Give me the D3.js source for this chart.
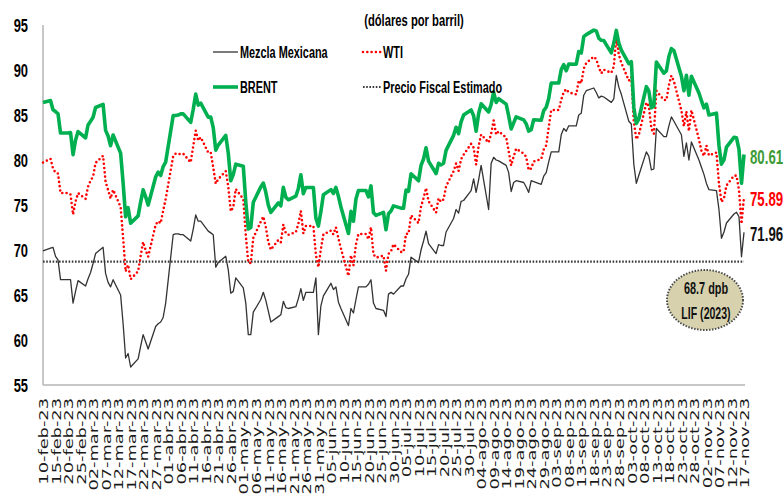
<!DOCTYPE html>
<html>
<head>
<meta charset="utf-8">
<script src="https://cdn.jsdelivr.net/npm/d3@7"></script>
<style>
  html, body { margin: 0; padding: 0; background: #fff; }
  svg { display: block; }
</style>
</head>
<body>
<svg id="chart" width="784" height="500"></svg>
<script>
// precios diarios (dias habiles 10-feb-23 a 17-nov-23), dolares por barril
const brent = [
  86.39, 86.61, 85.58, 85.38, 85.14, 83.00, 83.00, 83.05, 80.60, 82.21, 83.16, 82.45, 83.89,
  84.31, 84.75, 85.83, 86.18, 83.29, 82.66, 81.59, 82.78, 80.77, 77.45, 73.69, 74.70, 72.97, 73.79, 75.32, 76.69, 75.91, 74.99, 78.12, 78.65, 78.28, 79.27, 79.77,
  84.93, 84.94, 84.99, 85.12, 85.12, 84.18, 85.61, 87.33, 86.09, 86.31, 84.76, 84.77, 83.60, 81.10, 81.66, 82.73, 80.77, 77.69, 78.37, 79.54,
  79.31, 75.32, 72.33, 72.50, 75.30, 77.01, 77.44, 76.41, 74.98, 74.17, 75.23, 74.91, 76.96, 75.86, 75.58, 75.99, 76.84, 78.36, 76.26, 76.95, 76.95, 73.54, 72.66,
  74.28, 76.13, 76.71, 76.29, 76.95, 75.96, 74.79, 71.84, 74.29, 73.20, 75.67, 76.61, 76.61, 75.90, 77.12, 74.14, 73.85, 74.18, 72.26, 74.03, 74.34, 74.90,
  74.65, 74.65, 76.65, 76.52, 78.47, 77.69, 79.40, 80.11, 81.36, 79.87, 78.50, 79.63, 79.46, 79.64, 81.07, 82.74, 83.64, 82.92, 84.24, 84.99, 85.56,
  84.91, 83.20, 85.14, 86.24, 85.34, 86.17, 87.55, 86.40, 86.81, 86.21, 84.89, 83.45, 84.12, 84.80, 84.46, 84.03, 83.21, 83.36, 84.48, 84.42, 85.49, 85.86, 86.83,
  88.55, 88.55, 90.04, 90.60, 89.92, 90.65, 90.64, 92.06, 91.88, 93.70, 93.93, 94.43, 94.34, 93.53, 93.30, 93.27, 91.90, 93.00, 94.40, 93.00, 92.20,
  90.71, 90.92, 85.81, 84.07, 84.58, 88.15, 87.65, 85.82, 86.00, 90.89, 89.65, 89.90, 91.50, 92.38, 92.16, 89.30, 87.70, 89.40, 87.20, 89.30, 87.45, 86.60,
  85.80, 86.20, 85.00, 85.20, 81.61, 79.54, 80.01, 81.43, 82.52, 82.47, 81.18, 77.42, 80.61
]
const wti = [
  79.72, 80.14, 79.06, 78.59, 78.49, 76.34, 76.34, 76.16, 73.95, 75.39, 76.32, 75.68, 77.05,
  77.69, 78.16, 79.68, 80.46, 77.58, 76.66, 75.72, 76.68, 74.80, 71.33, 67.61, 68.35, 66.74, 67.64, 69.33, 70.90, 69.96, 69.26, 72.81, 73.20, 72.97, 74.37, 75.67,
  80.42, 80.71, 80.61, 80.70, 80.70, 79.74, 81.53, 83.26, 82.16, 82.52, 80.83, 80.86, 79.16, 77.37, 77.87, 78.76, 77.07, 74.30, 74.76, 76.78,
  75.66, 71.66, 68.60, 68.56, 71.34, 73.16, 73.71, 72.56, 70.87, 70.04, 71.11, 70.86, 72.83, 71.86, 71.69, 71.99, 72.91, 74.34, 71.83, 72.67, 72.67, 69.46, 68.09,
  70.10, 71.74, 72.15, 71.74, 72.53, 71.29, 70.17, 67.12, 69.42, 68.27, 70.62, 71.78, 71.78, 71.19, 72.53, 69.51, 69.16, 69.37, 67.70, 69.56, 69.86, 70.64,
  69.79, 69.79, 71.79, 71.80, 73.86, 72.99, 74.83, 75.75, 76.89, 75.42, 74.15, 75.75, 75.35, 75.63, 77.07, 78.74, 79.63, 78.78, 80.09, 80.58, 81.80,
  81.37, 79.49, 81.55, 82.82, 81.94, 82.92, 84.40, 82.82, 83.19, 82.51, 80.99, 79.38, 80.39, 81.25, 80.72, 80.35, 78.89, 79.05, 79.83, 80.10, 81.16, 81.63, 83.63,
  85.55, 85.55, 86.69, 87.54, 87.87, 87.51, 87.29, 88.84, 88.52, 90.16, 90.77, 91.48, 91.20, 90.28, 89.63, 90.03, 89.68, 90.39, 93.68, 91.71, 90.79,
  88.82, 89.23, 84.22, 82.31, 82.79, 86.38, 85.97, 83.49, 82.91, 87.69, 86.66, 86.66, 88.32, 89.37, 88.75, 85.49, 83.74, 85.39, 83.21, 85.54, 82.31, 81.02,
  80.44, 81.60, 80.51, 80.82, 77.37, 75.33, 75.74, 77.17, 78.26, 78.26, 76.66, 72.90, 75.89
]
const mezcla = [
  69.9, 70.2, 70.3, 69.3, 68.9, 66.7, 66.7, 66.7, 64.1, 65.4, 66.6, 66.0, 66.8,
  67.5, 68.5, 69.6, 70.3, 67.4, 66.4, 65.9, 66.7, 65.0, 61.8, 58.0, 58.5, 57.0, 57.9, 59.3, 60.6, 59.8, 59.0, 61.5, 61.8, 62.0, 62.5, 64.1,
  71.7, 71.8, 71.8, 71.7, 71.7, 71.0, 72.3, 73.9, 73.2, 73.2, 72.1, 71.9, 71.7, 68.1, 68.6, 69.3, 67.8, 65.2, 65.4, 66.9,
  65.8, 64.1, 60.6, 60.6, 63.1, 64.5, 65.3, 64.4, 63.2, 62.0, 62.6, 62.8, 64.3, 63.6, 63.5, 63.7, 64.6, 65.7, 64.4, 65.3, 65.3, 66.9, 60.6,
  63.8, 64.9, 66.3, 65.6, 65.9, 64.2, 63.5, 61.6, 63.5, 63.0, 64.5, 65.9, 65.9, 66.2, 66.7, 64.1, 63.5, 63.3, 62.6, 65.1, 65.3, 65.1,
  66.0, 66.0, 66.8, 67.3, 69.2, 68.6, 70.0, 71.0, 72.1, 70.7, 69.6, 70.6, 70.5, 70.5, 72.0, 73.5, 74.5, 74.1, 75.4, 75.5, 76.6,
  77.9, 76.4, 77.8, 79.4, 74.5, 79.6, 80.3, 80.0, 79.9, 79.4, 78.6, 76.5, 77.5, 77.7, 77.5, 77.0, 76.4, 77.7, 77.6, 77.3, 78.2, 78.6, 79.8,
  80.9, 80.9, 82.8, 83.5, 83.2, 83.8, 83.8, 85.0, 85.2, 87.2, 87.7, 88.0, 87.5, 86.9, 87.1, 87.0, 86.4, 86.8, 89.4, 88.1, 87.3,
  84.3, 84.0, 79.5, 77.4, 78.3, 80.9, 80.4, 78.9, 79.0, 83.5, 82.6, 82.6, 83.8, 84.8, 84.3, 82.8, 80.4, 81.9, 80.0, 82.0, 80.0, 79.2,
  78.4, 77.4, 76.7, 76.6, 74.5, 71.3, 72.0, 73.0, 74.0, 74.2, 73.7, 69.25, 71.96
]
const precioFiscal = 68.7
const yTicks = [55, 60, 65, 70, 75, 80, 85, 90, 95]
const meses = ["ene", "feb", "mar", "abr", "may", "jun", "jul", "ago", "sep", "oct", "nov", "dic"]
const fechaInicio = new Date(2023, 1, 10)
const fechaFin = new Date(2023, 10, 17)

// dias habiles y etiquetas cada 5 dias
const fechas = d3.timeDay.range(fechaInicio, d3.timeDay.offset(fechaFin, 1)).filter(d => d.getDay() % 6 != 0)
const tickDates = d3.timeDay.range(fechaInicio, d3.timeDay.offset(fechaFin, 1), 5)
const fmtFecha = d => `${d3.timeFormat("%d")(d)}-${meses[d.getMonth()]}-${d3.timeFormat("%y")(d)}`

const svg = d3.select("#chart")
const x = d3.scaleTime().domain([fechaInicio, fechaFin]).range([43, 744])
const y = d3.scaleLinear().domain([55, 95]).range([385, 25])

const boldFont = "'Liberation Sans', Arial, sans-serif"
const squeeze = 0.68

// texto angosto (el original viene estirado en vertical)
function narrowText(parent, px, py, txt, size, color, anchor, sx) {
  return parent.append("text")
    .attr("transform", `translate(${px},${py}) scale(${sx || squeeze},1)`)
    .attr("text-anchor", anchor || "start")
    .attr("dy", "0.36em")
    .style("font-family", boldFont)
    .style("font-weight", "bold")
    .style("font-size", size + "px")
    .style("fill", color || "#000")
    .text(txt)
}

// ejes
svg.append("line").attr("x1", 43).attr("x2", 43).attr("y1", y(95)).attr("y2", y(55))
  .attr("stroke", "#b4b4b4").attr("stroke-width", 1.5)
svg.append("line").attr("x1", 43).attr("x2", 745).attr("y1", y(55)).attr("y2", y(55))
  .attr("stroke", "#b4b4b4").attr("stroke-width", 1.5)

const yAxis = svg.append("g").attr("transform", "translate(43,0)")
  .call(d3.axisLeft(y).tickValues(yTicks).tickSize(0).tickFormat(d3.format("d")))
yAxis.select(".domain").remove()
yAxis.selectAll("text")
  .attr("x", 0).attr("dy", "0.36em")
  .attr("transform", "translate(-15,0) scale(0.68,1)")
  .style("font-family", boldFont).style("font-weight", "bold").style("font-size", "19px").style("fill", "#000")

const xAxis = svg.append("g").attr("transform", `translate(0,${y(55)})`)
  .call(d3.axisBottom(x).tickValues(tickDates).tickSize(0).tickFormat(fmtFecha))
xAxis.select(".domain").remove()
xAxis.selectAll("text")
  .attr("x", 0).attr("y", 0).attr("dy", "0.36em")
  .attr("transform", "translate(0,13) rotate(-90) scale(1.37,1)")
  .style("text-anchor", "end")
  .style("font-family", "'DejaVu Sans', sans-serif").style("font-size", "13px").style("fill", "#1a1a1a")

// series
const serie = vals => fechas.map((d, i) => ({ d, v: vals[i] }))
const line = d3.line().x(p => x(p.d)).y(p => y(p.v))

svg.append("path").datum([{ d: fechaInicio, v: precioFiscal }, { d: fechaFin, v: precioFiscal }])
  .attr("d", line).attr("fill", "none")
  .attr("stroke", "#3a3a3a").attr("stroke-width", 2.2).attr("stroke-dasharray", "1.6,1.6")

svg.append("path").datum(serie(mezcla))
  .attr("d", line).attr("fill", "none")
  .attr("stroke", "#333").attr("stroke-width", 1.3).attr("stroke-linejoin", "round")

svg.append("path").datum(serie(wti))
  .attr("d", line).attr("fill", "none")
  .attr("stroke", "#ff0000").attr("stroke-width", 2.6)
  .attr("stroke-linecap", "round").attr("stroke-dasharray", "0,4.3")

svg.append("path").datum(serie(brent))
  .attr("d", line).attr("fill", "none")
  .attr("stroke", "#00b050").attr("stroke-width", 3.6).attr("stroke-linejoin", "round")

// leyenda
const leg = svg.append("g")
narrowText(leg, 414, 20, "(dólares por barril)", 16.5, "#000", "middle")

leg.append("line").attr("x1", 213).attr("x2", 238).attr("y1", 52).attr("y2", 52)
  .attr("stroke", "#333").attr("stroke-width", 1.3)
narrowText(leg, 240, 52, "Mezcla Mexicana", 16, "#000")

leg.append("line").attr("x1", 363).attr("x2", 381).attr("y1", 52).attr("y2", 52)
  .attr("stroke", "#ff0000").attr("stroke-width", 2.6).attr("stroke-linecap", "round").attr("stroke-dasharray", "0,4.3")
narrowText(leg, 383, 52, "WTI", 16, "#000")

leg.append("line").attr("x1", 213).attr("x2", 238).attr("y1", 87).attr("y2", 87)
  .attr("stroke", "#00b050").attr("stroke-width", 3.6)
narrowText(leg, 240, 87, "BRENT", 16, "#000")

leg.append("line").attr("x1", 363).attr("x2", 381).attr("y1", 87).attr("y2", 87)
  .attr("stroke", "#3a3a3a").attr("stroke-width", 2.2).attr("stroke-dasharray", "1.6,1.6")
narrowText(leg, 383, 87, "Precio Fiscal Estimado", 16, "#000")

// ultimos valores
const ultimos = [
  { v: brent[brent.length - 1], color: "#3d9b35" },
  { v: wti[wti.length - 1], color: "#ff0000" },
  { v: mezcla[mezcla.length - 1], color: "#111" }
]
ultimos.forEach(u => narrowText(svg, 750, y(u.v) + 1.5, u.v.toFixed(2), 21, u.color, "start", 0.63))

// globo precio fiscal
const globo = svg.append("g")
globo.append("ellipse").attr("cx", 705).attr("cy", 300).attr("rx", 38).attr("ry", 30)
  .attr("fill", "#d7d1ae").attr("stroke", "#4a4a4a").attr("stroke-width", 2).attr("stroke-dasharray", "1.5,1.5")
narrowText(globo, 706, 288, `${precioFiscal} dpb`, 16, "#111", "middle")
narrowText(globo, 706, 313, "LIF (2023)", 16, "#111", "middle", 0.66)
</script>
</body>
</html>
